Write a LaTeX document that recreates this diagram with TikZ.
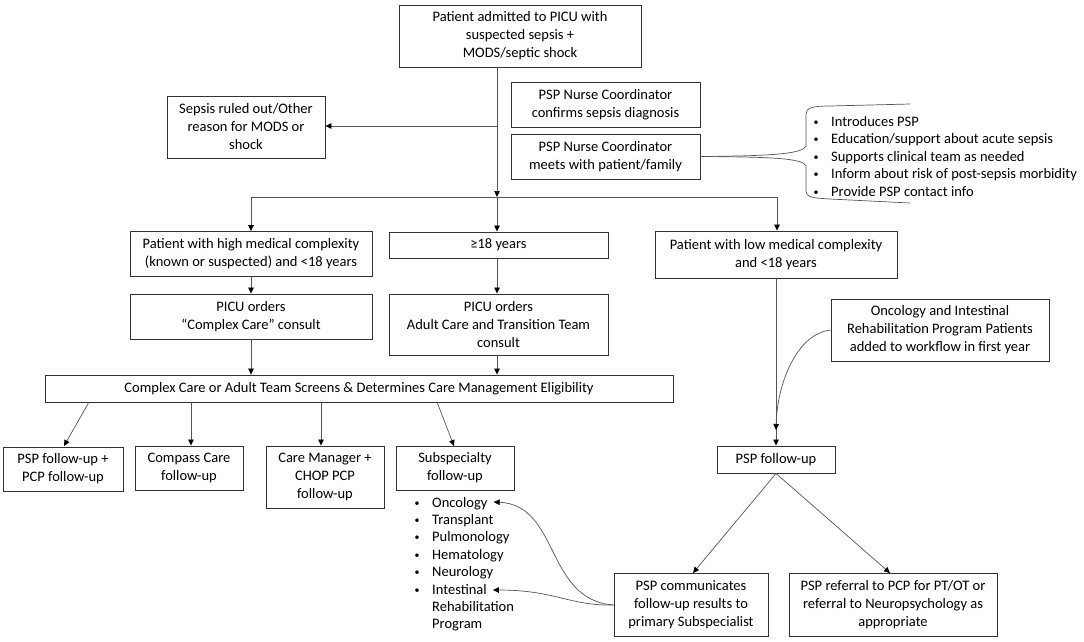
\documentclass[tikz,border=0pt]{standalone}
\usepackage{fontspec}
\setmainfont{Carlito}
\usetikzlibrary{arrows.meta}
\definecolor{boxc}{HTML}{333333}
\definecolor{linec}{HTML}{555555}
\newcommand{\mainf}{\fontsize{14.5}{18}\selectfont}
\newcommand{\bulf}{\fontsize{10}{12}\selectfont}
\begin{document}
\begin{tikzpicture}[x=1pt,y=-1pt,
  box/.style={draw=boxc, line width=0.9pt, inner sep=0pt, align=center, font=\mainf},
  conn/.style={draw=linec, line width=0.7pt},
  arr/.style={conn, -{Triangle[length=6pt,width=5.5pt,color=black]}},
  item/.style={inner sep=0pt, anchor=base west, font=\mainf},
  bul/.style={inner sep=0pt, anchor=base, font=\bulf}]
\useasboundingbox (0,0) rectangle (1084,641);
\fill[white] (0,0) rectangle (1084,641);
% top part
\node[box, minimum width=242, minimum height=62] (top) at (520,36) {Patient admitted to PICU with\\suspected sepsis +\\MODS/septic shock};
\node[box, minimum width=158, minimum height=62] (sepsis) at (246,127) {Sepsis ruled out/Other\\reason for MODS or\\shock};
\node[box, minimum width=189, minimum height=45] (confirm) at (605.5,104.5) {PSP Nurse Coordinator\\confirms sepsis diagnosis};
\node[box, minimum width=189, minimum height=45] (meets) at (605.5,156.5) {PSP Nurse Coordinator\\meets with patient/family};
% bullets top right
\foreach \t [count=\i] in {Introduces PSP,Education/support about acute sepsis,Supports clinical team as needed,Inform about risk of post-sepsis morbidity,Provide PSP contact info}{
  \node[item] (t\i) at (831,{121+17.5*(\i-1)+5}) {\t};
  \node[bul] (tb\i) at (816,{121+17.5*(\i-1)+4}) {•};
}
% brace
\draw[conn] (meets.east) .. controls (770,156) and (803,154) .. (806,146) -- (806,114) .. controls (806,108) and (812,106) .. (830,106) -- (910,104);
\draw[conn] (meets.east) .. controls (770,157) and (803,158) .. (806,166) -- (806,191) .. controls (806,197) and (812,198) .. (830,199) -- (910,203);
% row 2
\node[box, minimum width=242, minimum height=45] (high) at (251,254) {Patient with high medical complexity\\(known or suspected) and <18 years};
\node[box, minimum width=219, minimum height=26] (adult) at (498.5,245) {≥18 years};
\node[box, minimum width=242, minimum height=47] (low) at (776,254.5) {Patient with low medical complexity\\and <18 years};
% connectors top
\coordinate (jn) at (497,197);
\coordinate (jl) at (251,197);
\coordinate (jr) at (777,197);
\coordinate (js) at (497,126);
\draw[arr] (top.south -| jn) -- (jn);
\draw[arr] (js) -- (sepsis.east |- js);
\draw[conn] (jl) -- (jr);
\draw[arr] (jl) -- (high.north);
\draw[arr] (jn) -- (adult.north -| jn);
\draw[arr] (jr) -- (low.north -| jr);
% row 3
\node[box, minimum width=242, minimum height=45] (picucc) at (251,316.5) {PICU orders\\“Complex Care” consult};
\node[box, minimum width=219, minimum height=61] (picuad) at (498.5,324.5) {PICU orders\\Adult Care and Transition Team\\consult};
\node[box, minimum width=218, minimum height=62] (oncbox) at (940,330) {Oncology and Intestinal\\Rehabilitation Program Patients\\added to workflow in first year};
\draw[arr] (high.south) -- (picucc.north);
\draw[arr] (adult.south -| jn) -- (picuad.north -| jn);
% row 4
\node[box, minimum width=628, minimum height=27] (screens) at (359,388.5) {Complex Care or Adult Team Screens \& Determines Care Management Eligibility};
\draw[arr] (picucc.south) -- (screens.north -| picucc.south);
\draw[arr] (picuad.south -| jn) -- (screens.north -| jn);
% row 5
\node[box, minimum width=120, minimum height=44] (psppcp) at (63,469) {PSP follow-up +\\PCP follow-up};
\node[box, minimum width=108, minimum height=44] (compass) at (189,468) {Compass Care\\follow-up};
\node[box, minimum width=118, minimum height=62] (careman) at (325,477) {Care Manager +\\CHOP PCP\\follow-up};
\node[box, minimum width=118, minimum height=44] (subsp) at (455,468) {Subspecialty\\follow-up};
\coordinate (s1) at (89,402);
\coordinate (s2) at (191,402);
\coordinate (s3) at (321,402);
\coordinate (s4) at (437,402);
\draw[arr] (s1) -- (64,446);
\draw[arr] (s2) -- (compass.north -| s2);
\draw[arr] (s3) -- (careman.north -| s3);
\draw[arr] (s4) -- (454,446);
% subspecialty list
\foreach \t [count=\i] in {Oncology,Transplant,Pulmonology,Hematology,Neurology,Intestinal}{
  \node[item] (l\i) at (432,{502+17.4*(\i-1)+5}) {\t};
  \node[bul] (lb\i) at (417,{502+17.4*(\i-1)+4}) {•};
}
\node[item] (l7) at (432,{502+17.4*6+5}) {Rehabilitation};
\node[item] (l8) at (432,{502+17.4*7+5}) {Program};
% right branch
\node[box, minimum width=118, minimum height=27] (pspfu) at (776,459.5) {PSP follow-up};
\node[box, minimum width=154, minimum height=63] (comm) at (691,604.5) {PSP communicates\\follow-up results to\\primary Subspecialist};
\node[box, minimum width=208, minimum height=63] (referral) at (893,604.5) {PSP referral to PCP for PT/OT or\\referral to Neuropsychology as\\appropriate};
\draw[arr] (low.south) -- (pspfu.north);
\draw[arr] (oncbox.west) .. controls (796,334) and (777,385) .. (776,430);
\draw[arr] (pspfu.south) -- (693,573);
\draw[arr] (pspfu.south) -- (890,573);
\coordinate (cm) at (614,605);
\draw[arr] (comm.west |- cm) .. controls (545,600) and (560,505) .. ([xshift=6pt]l1.base east |- 0,502);
\draw[arr] (comm.west |- cm) .. controls (570,606) and (555,590) .. ([xshift=6pt]l6.base east |- 0,590);
\end{tikzpicture}
\end{document}
